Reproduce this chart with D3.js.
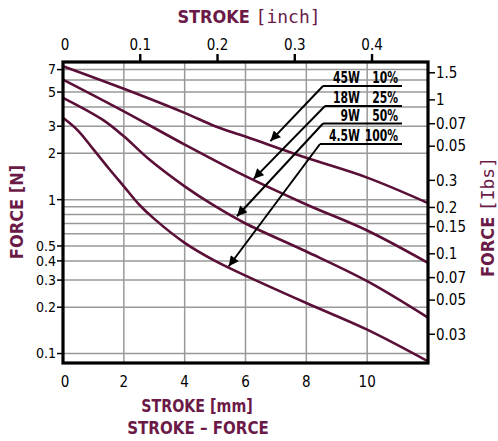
<!DOCTYPE html>
<html lang="en">
<head>
<meta charset="UTF-8">
<title>Stroke - Force</title>
<script src="https://cdn.jsdelivr.net/npm/d3@7"></script>
<style>
    body { margin: 0; background: #fff; }
    text { font-family: "DejaVu Sans", sans-serif; font-stretch: condensed; }
    .mono { font-family: "DejaVu Sans Mono", "Liberation Mono", monospace; font-stretch: normal; }
</style>
</head>
<body>
<svg id="chart" width="498" height="441"></svg>
<script>
// stroke [mm] and force [N], one pair of arrays per curve
var stroke45 = [0, 2, 4, 5, 6, 8, 10, 12];
var force45 = [7.36, 5.25, 3.66, 3.0, 2.57, 1.87, 1.39, 0.95];

var stroke18 = [0, 2, 4, 6, 8, 10, 12];
var force18 = [6.03, 3.75, 2.28, 1.42, 0.93, 0.63, 0.388];

var stroke9 = [0, 1.3, 2, 2.8, 4, 5, 6, 8, 10, 12];
var force9 = [4.59, 3.31, 2.58, 1.85, 1.22, 0.906, 0.70, 0.46, 0.295, 0.171];

var stroke45b = [0, 0.5, 1, 1.5, 2, 2.5, 3, 4, 5, 6, 8, 10, 12];
var force45b = [3.40, 2.80, 2.12, 1.6, 1.22, 0.93, 0.75, 0.524, 0.40, 0.321, 0.213, 0.143, 0.089];

var powerLabels = ["45W", "18W", "9W", "4.5W"];
var dutyLabels = ["10%", "25%", "50%", "100%"];
// where each arrow points (stroke mm, force N)
var arrowStroke = [6.82, 6.27, 5.72, 5.45];
var arrowForce = [2.40, 1.365, 0.78, 0.369];

// axes
var mmTicks = [0, 2, 4, 6, 8, 10];
var inchTicks = [0.1, 0.2, 0.3, 0.4];
var nTicks = [7, 5, 3, 2, 1, 0.5, 0.4, 0.3, 0.2, 0.1];
var nGrid = [7, 6, 5, 4, 3, 2, 1, 0.9, 0.8, 0.7, 0.6, 0.5, 0.4, 0.3, 0.2, 0.1];
var lbsTicks = [1.5, 1, 0.7, 0.5, 0.3, 0.2, 0.15, 0.1, 0.07, 0.05, 0.03];
var lbsLabels = ["1.5", "1", "0.07", "0.05", "0.3", "0.2", "0.15", "0.1", "0.07", "0.05", "0.03"];

var series = [
    {x: stroke45, y: force45},
    {x: stroke18, y: force18},
    {x: stroke9, y: force9},
    {x: stroke45b, y: force45b}
];

var curveColor = "#5a0f36";
var titleColor = "#6b1a48";
var margin = {top: 62, left: 63, right: 70, bottom: 78};
var width = 498 - margin.left - margin.right;
var height = 441 - margin.top - margin.bottom;

var svg = d3.select("#chart");
var g = svg.append("g").attr("transform", "translate(" + margin.left + "," + margin.top + ")");

var x = d3.scaleLinear().domain([0, 12]).range([0, width]);
var xInch = d3.scaleLinear().domain([0, 12 / 25.4]).range([0, width]);
var y = d3.scaleLog().domain([0.0868, 7.84]).range([height, 0]);
var N_PER_LBS = 4.44822;

// squeeze a text to a share of its natural width (narrow face look)
function squeeze(sel, k) {
    sel.each(function () {
        var w = this.getComputedTextLength();
        d3.select(this).attr("textLength", w * k).attr("lengthAdjust", "spacingAndGlyphs");
    });
}

// grid
g.selectAll(".vgrid").data(mmTicks.filter(function (d) { return d > 0; }))
    .enter().append("line")
    .attr("x1", d => x(d)).attr("x2", d => x(d))
    .attr("y1", 0).attr("y2", height)
    .attr("stroke", "#999").attr("stroke-width", 1.5);

g.selectAll(".hgrid").data(nGrid)
    .enter().append("line")
    .attr("x1", 0).attr("x2", width)
    .attr("y1", d => y(d)).attr("y2", d => y(d))
    .attr("stroke", "#999").attr("stroke-width", 1.5);

// curves
var line = d3.line()
    .x(d => x(d[0]))
    .y(d => y(d[1]))
    .curve(d3.curveCatmullRom.alpha(0.5));

series.forEach(function (s) {
    g.append("path")
        .datum(d3.zip(s.x, s.y))
        .attr("d", line)
        .attr("fill", "none")
        .attr("stroke", curveColor)
        .attr("stroke-width", 2.6);
});

// legend labels with leader arrows
svg.append("defs").append("marker")
    .attr("id", "arrow")
    .attr("viewBox", "0 0 10 10")
    .attr("refX", 10).attr("refY", 5)
    .attr("markerWidth", 11).attr("markerHeight", 10)
    .attr("markerUnits", "userSpaceOnUse")
    .attr("orient", "auto")
    .append("path").attr("d", "M0,0L10,5L0,10z").attr("fill", "#000");

var rowY = [86, 106, 123.5, 144];
var rowX0 = [323, 325, 323, 320];
powerLabels.forEach(function (lab, i) {
    var ly = rowY[i] - margin.top;
    var lx0 = rowX0[i] - margin.left;
    g.append("line")
        .attr("x1", lx0).attr("x2", 402 - margin.left)
        .attr("y1", ly).attr("y2", ly)
        .attr("stroke", "#000").attr("stroke-width", 2.2);
    g.append("line")
        .attr("x1", lx0).attr("y1", ly)
        .attr("x2", x(arrowStroke[i])).attr("y2", y(arrowForce[i]))
        .attr("stroke", "#000").attr("stroke-width", 2)
        .attr("marker-end", "url(#arrow)");
    g.append("text")
        .attr("x", 360 - margin.left).attr("y", ly - 3)
        .attr("text-anchor", "end")
        .attr("font-size", 15).attr("font-weight", "bold")
        .text(lab)
        .call(squeeze, 0.8);
    g.append("text")
        .attr("x", 398 - margin.left).attr("y", ly - 3)
        .attr("text-anchor", "end")
        .attr("font-size", 15).attr("font-weight", "bold")
        .text(dutyLabels[i])
        .call(squeeze, 0.8);
});

// frame
g.append("rect")
    .attr("width", width).attr("height", height)
    .attr("fill", "none").attr("stroke", "#000").attr("stroke-width", 3.2);

// bottom axis labels (mm)
g.selectAll(".mmlab").data(mmTicks).enter().append("text")
    .attr("x", d => x(d) + (d === 0 ? 2 : 0)).attr("y", height + 24)
    .attr("text-anchor", "middle").attr("font-size", 15)
    .text(d => d);

// top axis (inch)
g.selectAll(".intick").data(inchTicks).enter().append("line")
    .attr("x1", d => xInch(d)).attr("x2", d => xInch(d))
    .attr("y1", -8).attr("y2", 0)
    .attr("stroke", "#000").attr("stroke-width", 2.4);
g.selectAll(".inlab").data([0].concat(inchTicks)).enter().append("text")
    .attr("x", d => xInch(d) + (d === 0 ? 2 : 0)).attr("y", -12)
    .attr("text-anchor", "middle").attr("font-size", 15)
    .text(d => d);

// left axis (N)
g.selectAll(".ntick").data(nTicks).enter().append("line")
    .attr("x1", -6).attr("x2", 0)
    .attr("y1", d => y(d)).attr("y2", d => y(d))
    .attr("stroke", "#000").attr("stroke-width", 1.5);
g.selectAll(".nlab").data(nTicks).enter().append("text")
    .attr("x", -7).attr("y", d => y(d)).attr("dy", "0.35em")
    .attr("text-anchor", "end").attr("font-size", 14)
    .text(d => d);

// right axis (lbs)
g.selectAll(".ltick").data(lbsTicks).enter().append("line")
    .attr("x1", width).attr("x2", width + 7)
    .attr("y1", d => y(d * N_PER_LBS)).attr("y2", d => y(d * N_PER_LBS))
    .attr("stroke", "#000").attr("stroke-width", 1.5);
g.selectAll(".llab").data(lbsTicks).enter().append("text")
    .attr("x", width + 8).attr("y", d => y(d * N_PER_LBS)).attr("dy", "0.35em")
    .attr("font-size", 15)
    .text((d, i) => lbsLabels[i]);

// axis titles
var topTitle = svg.append("text")
    .attr("x", 249).attr("y", 23)
    .attr("text-anchor", "middle").attr("fill", titleColor)
    .attr("font-size", 18).attr("font-weight", "bold");
topTitle.append("tspan").text("STROKE ");
topTitle.append("tspan").attr("class", "mono").attr("font-weight", "normal").text("[inch]");

svg.append("text")
    .attr("x", 197).attr("y", 412)
    .attr("text-anchor", "middle").attr("fill", titleColor)
    .attr("font-size", 18).attr("font-weight", "bold")
    .text("STROKE [mm]")
    .call(squeeze, 0.88);
svg.append("text")
    .attr("x", 198).attr("y", 434)
    .attr("text-anchor", "middle").attr("fill", titleColor)
    .attr("font-size", 18).attr("font-weight", "bold")
    .text("STROKE \u2013 FORCE")
    .call(squeeze, 0.93);

svg.append("text")
    .attr("transform", "translate(23,212) rotate(-90)")
    .attr("text-anchor", "middle").attr("fill", titleColor)
    .attr("font-size", 18).attr("font-weight", "bold")
    .text("FORCE [N]");

var rightTitle = svg.append("text")
    .attr("transform", "translate(494,217) rotate(-90)")
    .attr("text-anchor", "middle").attr("fill", titleColor)
    .attr("font-size", 18).attr("font-weight", "bold");
rightTitle.append("tspan").text("FORCE ");
rightTitle.append("tspan").attr("class", "mono").attr("font-weight", "normal").text("[Ibs]");
</script>
</body>
</html>
